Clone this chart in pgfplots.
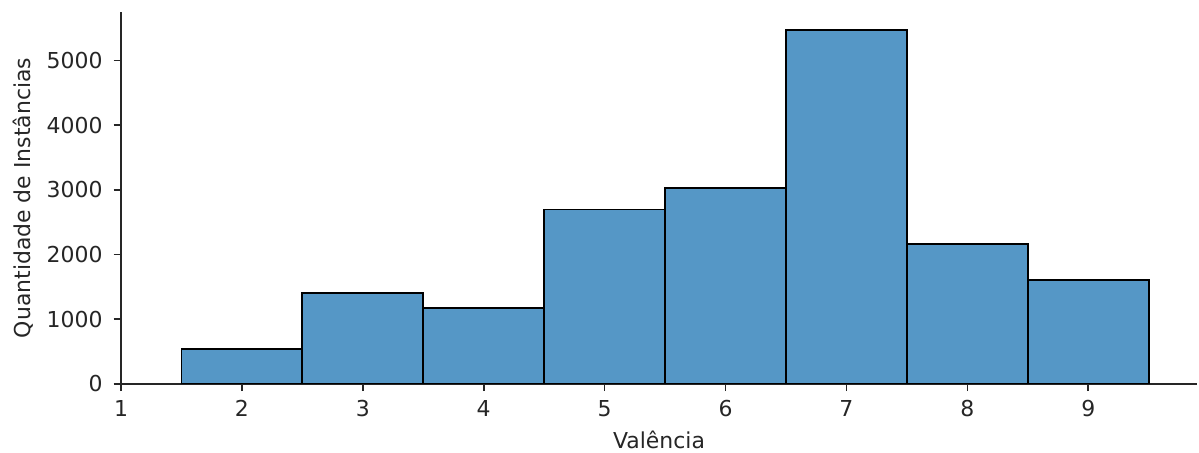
\documentclass[border=0pt]{standalone}
\usepackage{pgfplots}
\pgfplotsset{compat=1.18}
\usepackage{fontspec}
\setmainfont{DejaVu Sans}
\usetikzlibrary{calc}
\definecolor{barblue}{RGB}{85,151,198}
\begin{document}
\begin{tikzpicture}[x=1pt,y=1pt]
\begin{axis}[
  name=ax,
  scale only axis,
  width=774.7pt, height=267.8pt,
  xmin=1, xmax=9.9, ymin=0, ymax=5750,
  axis lines=left,
  axis line style={-, line width=1.2pt, black!85},
  tick align=outside,
  major tick length=5.25pt,
  tick style={line width=1.2pt, black!85},
  xtick={1,2,3,4,5,6,7,8,9},
  ytick={0,1000,2000,3000,4000,5000},
  scaled y ticks=false,
  /pgf/number format/assume math mode=true,
  /pgf/number format/1000 sep={},
  ticklabel style={font=\fontsize{15.8}{19}\selectfont, text=black!85},
  label style={font=\fontsize{15.8}{19}\selectfont, text=black!85},
  xticklabel style={yshift=-3pt},
  yticklabel style={xshift=-4.5pt},
  xlabel={Valência},
  ylabel={Quantidade de Instâncias},
  xlabel style={yshift=-3.5pt},
  ylabel style={yshift=3pt},
]
\addplot[ybar interval, fill=barblue, draw=black, line width=1.3pt] coordinates {
(1.5,545) (2.5,1410) (3.5,1178) (4.5,2695) (5.5,3032) (6.5,5470) (7.5,2168) (8.5,1612) (9.5,1612)};
\end{axis}
\pgfresetboundingbox
\useasboundingbox ($(ax.south west)+(-87.1pt,-49.0pt)$) rectangle ($(ax.north east)+(1.4pt,8.6pt)$);
\end{tikzpicture}
\end{document}
